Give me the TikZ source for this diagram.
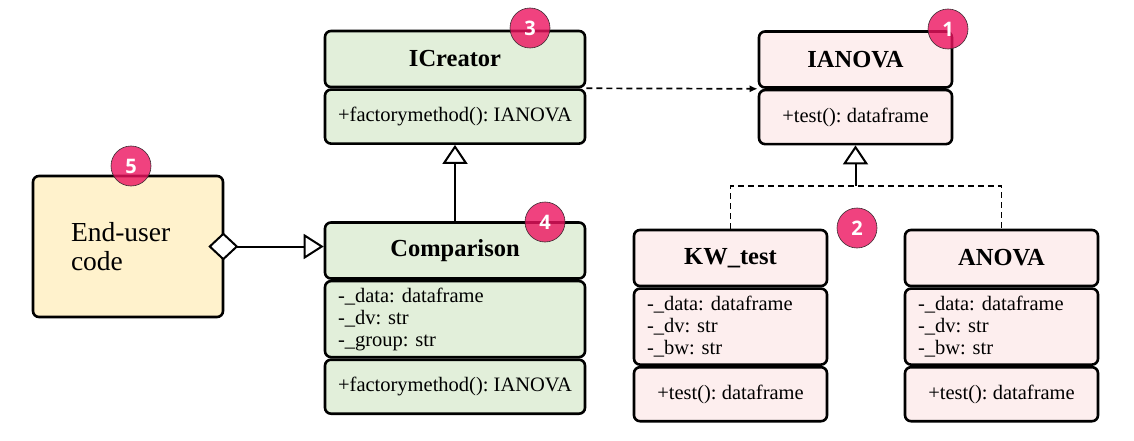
\documentclass[tikz,border=0pt]{standalone}
\usepackage{fontspec}
\setmainfont{Liberation Serif}
\newfontfamily\badgefont{Open Sans}
\usepackage{tikz}
\usetikzlibrary{positioning, calc, arrows.meta}
\definecolor{creatorgreen}{HTML}{E2EFDA}
\definecolor{anovapink}{HTML}{FDEEEE}
\definecolor{useryellow}{HTML}{FFF2CC}
\definecolor{badgepink}{HTML}{EC135F}
\definecolor{badgeline}{HTML}{3A2A30}
\tikzstyle{Inherit} = [
%open triangle head for inheritance:
line width=2pt,
-{Triangle[open, fill=white, length=19pt, width=25pt, line width=2pt]}
]
\tikzstyle{Depend} = [line width=1.7pt, dash pattern=on 6pt off 4pt]
\frenchspacing

\begin{document}
\begin{tikzpicture}[x=1pt, y=1pt,
			box/.style = {rectangle, draw, line width=2.6pt, rounded corners=6pt},
			head/.style = {box, text centered, minimum width=#1, minimum height=56pt, font=\fontsize{24.5}{28}\selectfont\bfseries},
			attrs/.style = {box, align=left, text width=#1, inner xsep=13pt, minimum height=76pt, font=\fontsize{20.5}{22}\selectfont},
			meths/.style = {box, text centered, minimum width=#1, minimum height=54pt, font=\fontsize{20.5}{22}\selectfont},
			user/.style = {box, fill=useryellow, align=left, text width=114pt, inner xsep=38pt, minimum height=141pt, font=\fontsize{27.5}{29}\selectfont},
			badge/.style = {circle, fill=badgepink, draw=badgeline, line width=0.6pt, fill opacity=0.8, text opacity=1, text=white, minimum size=40pt, inner sep=0pt, font=\badgefont\bfseries\fontsize{20}{20}\selectfont},
		]
		\useasboundingbox (0,0) rectangle (1134,440);

		\node[head=260pt, fill=creatorgreen](CRh) at (455,381){ICreator};
		\node[meths=260pt, fill=creatorgreen, below=0pt of CRh](CRm){+factorymethod(): IANOVA};

		\node[head=260pt, fill=creatorgreen](CPh) at (455,189.5){Comparison};
		\node[attrs=234pt, fill=creatorgreen, below=0pt of CPh](CPa){-\_data: dataframe\\-\_dv: str\\-\_group: str};
		\node[meths=260pt, fill=creatorgreen, below=0pt of CPa](CPm){+factorymethod(): IANOVA};

		\node[head=193pt, fill=anovapink](IAh) at (855.5,380.5){IANOVA};
		\node[meths=193pt, fill=anovapink, below=0pt of IAh](IAm){+test(): dataframe};

		\node[head=193pt, fill=anovapink](KWh) at (730.5,182){KW\_test};
		\node[attrs=167pt, fill=anovapink, below=0pt of KWh](KWa){-\_data: dataframe\\-\_dv: str\\-\_bw: str};
		\node[meths=193pt, fill=anovapink, below=0pt of KWa](KWm){+test(): dataframe};

		\node[head=193pt, fill=anovapink](ANh) at (1001.5,182){ANOVA};
		\node[attrs=167pt, fill=anovapink, below=0pt of ANh](ANa){-\_data: dataframe\\-\_dv: str\\-\_bw: str};
		\node[meths=193pt, fill=anovapink, below=0pt of ANa](ANm){+test(): dataframe};

		\node[user](EU) at (128,193.5){End-user\\code};

		\coordinate(SP) at (855.5,254);

		\draw[Depend, -{Latex[length=8pt, width=7pt]}](CRh.south east)--(IAh.south west);
		\draw[Inherit](CPh.north)--(CRm.south);
		\draw[Inherit](SP)--(IAm.south);
		\draw[Depend](KWh.north)|-(SP)-|(ANh.north);
		\draw[line width=2pt, shorten <=-16pt, {Diamond[fill=white, length=30pt, width=28pt, line width=2pt]}-{Triangle[open, fill=white, length=20pt, width=25pt, line width=2pt]}](EU.east)--(EU.east -| CPh.west);

		\node[badge](B1) at (948,411){1};
		\node[badge](B2) at (857,212){2};
		\node[badge](B3) at (530,412){3};
		\node[badge](B4) at (545,218){4};
		\node[badge](B5) at (131,274){5};
	\end{tikzpicture}
\end{document}
